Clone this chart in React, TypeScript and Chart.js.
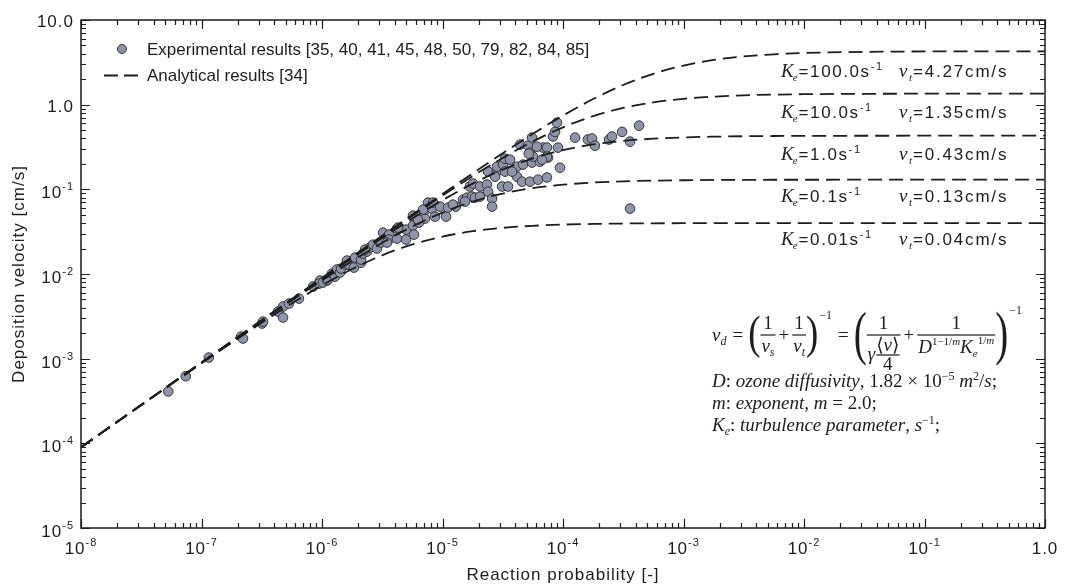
import React, { useEffect, useRef } from "react";
import { Chart, registerables } from "chart.js";

Chart.register(...registerables);

// ---------------- data ----------------
const GAMMA = [
  1e-8, 1e-7, 3.16e-7, 5.62e-7, 1e-6, 1.78e-6, 3.16e-6, 5.62e-6, 1e-5, 1.78e-5, 3.16e-5, 5.62e-5,
  1e-4, 1.78e-4, 3.16e-4, 5.62e-4, 1e-3, 1.78e-3, 3.16e-3, 5.62e-3, 1e-2, 1e-1, 1,
];
const VD_KE_100 = [
  9.0e-5, 9.0e-4, 2.844e-3, 5.055e-3, 8.981e-3, 0.01596, 0.02827, 0.05002, 0.08814, 0.1544, 0.2668, 0.4525,
  0.7433, 1.165, 1.708, 2.316, 2.896, 3.371, 3.713, 3.937, 4.077, 4.25, 4.268,
];
const VD_KE_10 = [
  9.0e-5, 8.994e-4, 2.84e-3, 5.042e-3, 8.94e-3, 0.01583, 0.02787, 0.04878, 0.08437, 0.1432, 0.235, 0.3681,
  0.54, 0.7326, 0.9156, 1.0657, 1.1739, 1.2451, 1.2889, 1.3149, 1.33, 1.348, 1.35,
];
const VD_KE_1 = [
  9.0e-5, 8.981e-4, 2.827e-3, 5.002e-3, 8.815e-3, 0.01544, 0.02669, 0.04527, 0.07442, 0.1167, 0.1712, 0.2325,
  0.291, 0.339, 0.3736, 0.3963, 0.4104, 0.4188, 0.4236, 0.4264, 0.428, 0.4298, 0.43,
];
const VD_KE_01 = [
  8.994e-5, 8.938e-4, 2.785e-3, 4.871e-3, 8.417e-3, 0.01426, 0.02335, 0.03643, 0.05319, 0.07177, 0.08924, 0.1034,
  0.1136, 0.1202, 0.1243, 0.1267, 0.1281, 0.129, 0.1294, 0.1297, 0.1298, 0.13, 0.13,
];
const VD_KE_001 = [
  8.98e-5, 8.802e-4, 2.657e-3, 4.492e-3, 7.347e-3, 0.01144, 0.01663, 0.02234, 0.02769, 0.03201, 0.03507, 0.03707,
  0.0383, 0.03903, 0.03945, 0.03968, 0.03982, 0.0399, 0.03994, 0.03997, 0.03998, 0.04, 0.04,
];

const EXP_GAMMA = [
  5.3e-8, 7.4e-8, 1.15e-7, 2.13e-7, 2.21e-7, 3.18e-7, 3.24e-7, 4.31e-7, 4.75e-7, 4.75e-7,
  5.32e-7, 6.44e-7, 8.42e-7, 9.62e-7, 9.44e-7, 1.02e-6, 1.1e-6, 1.12e-6, 1.21e-6, 1.28e-6,
  1.33e-6, 1.41e-6, 1.44e-6, 1.58e-6, 1.61e-6, 1.67e-6, 1.84e-6, 1.84e-6, 1.88e-6, 2.11e-6,
  2.11e-6, 2.19e-6, 2.36e-6, 2.5e-6, 2.65e-6, 2.86e-6, 3.09e-6, 3.21e-6, 3.6e-6, 3.6e-6,
  4.19e-6, 4.19e-6, 4.98e-6, 4.98e-6, 5.69e-6, 5.69e-6, 5.8e-6, 6.38e-6, 7.16e-6, 7.29e-6,
  7.58e-6, 8.18e-6, 8.34e-6, 8.66e-6, 9.53e-6, 6.89e-6, 1.07e-5, 1.11e-5, 1.29e-5, 1.48e-5,
  1.6e-5, 1.76e-5, 1.86e-5, 2.05e-5, 1.69e-5, 1.79e-5, 2.05e-5, 2.34e-5, 2.39e-5, 2.39e-5,
  2.58e-5, 2.58e-5, 2.83e-5, 2.83e-5, 3.12e-5, 3.18e-5, 3.3e-5, 3.3e-5, 3.5e-5, 3.63e-5,
  4.15e-5, 4.15e-5, 4.4e-5, 4.57e-5, 4.66e-5, 5.13e-5, 5.32e-5, 5.32e-5, 5.53e-5, 6.21e-5,
  6.44e-5, 6.82e-5, 7.36e-5, 7.52e-5, 8.26e-5, 8.59e-5, 8.91e-5, 9.44e-5, 2.73e-5, 3.78e-5,
  5.64e-5, 6.08e-5, 5.53e-5, 5.2e-5, 7.36e-5, 9.1e-5, 7.36e-5, 6.7e-5, 1.26e-4, 1.61e-4,
  1.74e-4, 1.84e-4, 2.41e-4, 2.55e-4, 3.09e-4, 3.6e-4, 4.28e-4, 3.6e-4, 1.22e-5, 1.54e-5,
  6.26e-6, 4.28e-6, 3.46e-6, 2.28e-6,
];
const EXP_VD = [
  4.1e-4, 6.2e-4, 1.03e-3, 1.82e-3, 1.73e-3, 2.6e-3, 2.74e-3, 3.6e-3, 3.06e-3, 4.12e-3,
  4.47e-3, 5.12e-3, 7.1e-3, 8.36e-3, 7.7e-3, 7.91e-3, 8.36e-3, 8.59e-3, 1.01e-2, 9.31e-3,
  1.13e-2, 1.04e-2, 1.16e-2, 1.29e-2, 1.44e-2, 1.29e-2, 1.48e-2, 1.19e-2, 1.56e-2, 1.36e-2,
  1.48e-2, 1.74e-2, 1.84e-2, 2.05e-2, 2.22e-2, 2.0e-2, 2.35e-2, 3.08e-2, 2.92e-2, 2.55e-2,
  3.44e-2, 2.62e-2, 3.34e-2, 2.55e-2, 4.89e-2, 3.73e-2, 2.92e-2, 4.05e-2, 4.51e-2, 5.76e-2,
  6.97e-2, 5.92e-2, 6.97e-2, 4.76e-2, 6.25e-2, 5.76e-2, 4.76e-2, 6.08e-2, 6.25e-2, 7.55e-2,
  7.98e-2, 8.2e-2, 7.98e-2, 8.2e-2, 0.108, 0.117, 0.108, 0.114, 0.162, 9.39e-2,
  7.76e-2, 6.25e-2, 0.162, 0.185, 0.108, 0.196, 0.23, 0.162, 0.108, 0.224,
  0.185, 0.141, 0.337, 0.123, 0.196, 0.328, 0.271, 0.123, 0.207, 0.13,
  0.212, 0.311, 0.138, 0.237, 0.421, 0.477, 0.613, 0.18, 0.141, 0.162,
  0.243, 0.319, 0.408, 0.264, 0.311, 0.311, 0.243, 0.224, 0.408, 0.387,
  0.398, 0.328, 0.387, 0.421, 0.477, 0.366, 0.565, 5.92e-2, 6.6e-2, 7.16e-2,
  4.39e-2, 3.53e-2, 2.35e-2, 1.94e-2,
];

const X_TICK_EXPONENTS = [-8, -7, -6, -5, -4, -3, -2, -1];
const Y_TICK_EXPONENTS = [-5, -4, -3, -2, -1];
const CURVE_KE = ["100.0", "10.0", "1.0", "0.1", "0.01"];
const CURVE_VT = ["4.27", "1.35", "0.43", "0.13", "0.04"];
const LEGEND_EXP = "Experimental results [35, 40, 41, 45, 48, 50, 79, 82, 84, 85]";
const LEGEND_ANA = "Analytical results [34]";
const X_TITLE = "Reaction probability [-]";
const Y_TITLE = "Deposition velocity [cm/s]";

// ---------------- styles ----------------
const SANS = '"Liberation Sans", Arial, Helvetica, sans-serif';
const SERIF = '"Liberation Serif", "Times New Roman", "DejaVu Serif", serif';
const INK = "#1c1c1c";
const POINT_FILL = "#8e95aa";
const POINT_EDGE = "#333333";
const DASH = [14, 7];

type Seg = [string, string, number, number];

function fontOf(kind: string, size: number) {
  if (kind === "i") return `italic ${size}px ${SERIF}`;
  if (kind === "r") return `${size}px ${SERIF}`;
  return `${size}px ${SANS}`;
}
function tw(ctx: any, t: string, kind: string, size: number) {
  ctx.font = fontOf(kind, size);
  return ctx.measureText(t).width;
}
function tx(ctx: any, t: string, kind: string, size: number, x: number, y: number) {
  ctx.font = fontOf(kind, size);
  ctx.fillText(t, x, y);
  return x + ctx.measureText(t).width;
}
function segW(ctx: any, segs: Seg[]) {
  let w = 0;
  for (const s of segs) w += tw(ctx, s[0], s[1], s[2]);
  return w;
}
function segD(ctx: any, segs: Seg[], x: number, y: number) {
  for (const s of segs) x = tx(ctx, s[0], s[1], s[2], x, y + s[3]);
  return x;
}
function frac(ctx: any, x: number, A: number, num: Seg[], den: Seg[], denDy = 17) {
  const wn = segW(ctx, num);
  const wd = segW(ctx, den);
  const w = Math.max(wn, wd) + 2;
  segD(ctx, num, x + (w - wn) / 2, A - 6);
  segD(ctx, den, x + (w - wd) / 2, A + denDy);
  ctx.fillRect(x, A - 0.6, w, 1.2);
  return x + w;
}
function paren(ctx: any, ch: string, size: number, sx: number, x: number, y: number) {
  ctx.font = fontOf("r", size);
  const w = ctx.measureText(ch).width * sx;
  ctx.save();
  ctx.translate(x, y);
  ctx.scale(sx, 1);
  ctx.fillText(ch, 0, 0);
  ctx.restore();
  return x + w;
}

const decorPlugin = {
  id: "decor",
  beforeDraw(chart: any) {
    const ctx = chart.ctx;
    ctx.save();
    ctx.fillStyle = "#ffffff";
    ctx.fillRect(0, 0, chart.width, chart.height);
    ctx.restore();
  },
  afterDraw(chart: any) {
    const ctx = chart.ctx;
    const xs = chart.scales.x;
    const ys = chart.scales.y;
    const a = chart.chartArea;
    ctx.save();
    ctx.strokeStyle = INK;
    ctx.fillStyle = INK;
    ctx.lineWidth = 1.5;
    ctx.setLineDash([]);
    ctx.strokeRect(a.left, a.top, a.right - a.left, a.bottom - a.top);

    // ticks (inward)
    ctx.lineWidth = 1.2;
    ctx.beginPath();
    for (let e = -8; e <= 0; e++) {
      for (let k = 1; k <= 9; k++) {
        if (e === 0 && k > 1) break;
        const px = Math.round(xs.getPixelForValue(k * Math.pow(10, e))) + 0.5;
        const len = k === 1 ? 9 : 5;
        ctx.moveTo(px, a.bottom);
        ctx.lineTo(px, a.bottom - len);
        ctx.moveTo(px, a.top);
        ctx.lineTo(px, a.top + len);
      }
    }
    for (let e = -5; e <= 1; e++) {
      for (let k = 1; k <= 9; k++) {
        if (e === 1 && k > 1) break;
        const py = Math.round(ys.getPixelForValue(k * Math.pow(10, e))) + 0.5;
        const len = k === 1 ? 9 : 5;
        ctx.moveTo(a.left, py);
        ctx.lineTo(a.left + len, py);
        ctx.moveTo(a.right, py);
        ctx.lineTo(a.right - len, py);
      }
    }
    ctx.stroke();

    // tick labels
    ctx.textAlign = "left";
    ctx.textBaseline = "alphabetic";
    (ctx as any).letterSpacing = "1px";
    const TF = 17;
    const EF = 11;
    for (const e of X_TICK_EXPONENTS) {
      const cx = xs.getPixelForValue(Math.pow(10, e));
      const w10 = tw(ctx, "10", "s", TF);
      const we = tw(ctx, String(e), "s", EF);
      const start = cx - (w10 + we) / 2;
      const nx = tx(ctx, "10", "s", TF, start, 554);
      tx(ctx, String(e), "s", EF, nx, 546);
    }
    {
      const cx = xs.getPixelForValue(1);
      const w = tw(ctx, "1.0", "s", TF);
      tx(ctx, "1.0", "s", TF, cx - w / 2, 554);
    }
    const YR = 74;
    for (const e of Y_TICK_EXPONENTS) {
      const cy = ys.getPixelForValue(Math.pow(10, e));
      const w10 = tw(ctx, "10", "s", TF);
      const we = tw(ctx, String(e), "s", EF);
      const start = YR - (w10 + we);
      const nx = tx(ctx, "10", "s", TF, start, cy + 9);
      tx(ctx, String(e), "s", EF, nx, cy + 1);
    }
    for (const [v, s] of [[1, "1.0"], [10, "10.0"]] as [number, string][]) {
      const cy = ys.getPixelForValue(v);
      const w = tw(ctx, s, "s", TF);
      tx(ctx, s, "s", TF, YR - w, cy + 7);
    }

    // axis titles
    {
      const w = tw(ctx, X_TITLE, "s", TF);
      tx(ctx, X_TITLE, "s", TF, (a.left + a.right) / 2 - w / 2, 580);
      ctx.save();
      ctx.translate(24, (a.top + a.bottom) / 2);
      ctx.rotate(-Math.PI / 2);
      const wy = tw(ctx, Y_TITLE, "s", TF);
      tx(ctx, Y_TITLE, "s", TF, -wy / 2, 0);
      ctx.restore();
    }
    (ctx as any).letterSpacing = "0px";

    // legend
    ctx.beginPath();
    ctx.arc(122, 49, 4.5, 0, Math.PI * 2);
    ctx.fillStyle = POINT_FILL;
    ctx.fill();
    ctx.lineWidth = 1;
    ctx.strokeStyle = POINT_EDGE;
    ctx.stroke();
    ctx.fillStyle = INK;
    tx(ctx, LEGEND_EXP, "s", 17, 147, 55);
    ctx.beginPath();
    ctx.setLineDash([14, 6]);
    ctx.lineWidth = 1.8;
    ctx.strokeStyle = INK;
    ctx.moveTo(104, 75.5);
    ctx.lineTo(141, 75.5);
    ctx.stroke();
    ctx.setLineDash([]);
    tx(ctx, LEGEND_ANA, "s", 17, 147, 81);

    // curve labels
    const rowBase = [77, 118, 160, 202, 245];
    for (let i = 0; i < CURVE_KE.length; i++) {
      const by = rowBase[i];
      let x = tx(ctx, "K", "i", 19, 781, by);
      x = tx(ctx, "e", "i", 11, x - 1, by + 4);
      (ctx as any).letterSpacing = "1.6px";
      x = tx(ctx, "=" + CURVE_KE[i] + "s", "s", 17, x + 1, by);
      x = tx(ctx, "-1", "s", 11, x, by - 7);
      let vx = tx(ctx, "v", "i", 19, 899, by);
      (ctx as any).letterSpacing = "0px";
      vx = tx(ctx, "t", "i", 11, vx, by + 4);
      (ctx as any).letterSpacing = "1.8px";
      tx(ctx, "=" + CURVE_VT[i] + "cm/s", "s", 17, vx + 1, by);
      (ctx as any).letterSpacing = "0px";
    }

    // formula
    const M = 19;
    const S = 12;
    const A = 335;
    let x = 712;
    x = segD(ctx, [["v", "i", M, 0], ["d", "i", S, 4]], x, A + 6);
    x += 6;
    x = tx(ctx, "=", "r", M, x, A + 6);
    x += 5;
    x = paren(ctx, "(", 46, 0.8, x, A + 13);
    x = frac(ctx, x, A, [["1", "r", M, 0]], [["v", "i", M, 0], ["s", "i", S, 4]]);
    x += 3;
    x = tx(ctx, "+", "r", M, x, A + 6);
    x += 3;
    x = frac(ctx, x, A, [["1", "r", M, 0]], [["v", "i", M, 0], ["t", "i", S, 4]]);
    x = paren(ctx, ")", 46, 0.8, x, A + 13);
    x = tx(ctx, "\u22121", "r", S, x + 1, A - 16);
    x += 6;
    x = tx(ctx, "=", "r", M, x, A + 6);
    x += 5;
    x = paren(ctx, "(", 60, 0.65, x, A + 18);
    {
      const gW = tw(ctx, "\u03b3", "i", M);
      const vSegs: Seg[] = [["\u27e8", "r", M, 0], ["v", "i", M, 0], ["\u27e9", "r", M, 0]];
      const vW = segW(ctx, vSegs);
      const fW = tw(ctx, "4", "r", M);
      const inner = Math.max(vW, fW);
      const denW = gW + 1 + inner;
      const numW = tw(ctx, "1", "r", M);
      const W = Math.max(denW, numW) + 2;
      tx(ctx, "1", "r", M, x + (W - numW) / 2, A - 6);
      ctx.fillRect(x, A - 0.6, W, 1.2);
      const dx = x + (W - denW) / 2;
      tx(ctx, "\u03b3", "i", M, dx, A + 25);
      const ix = dx + gW + 1;
      segD(ctx, vSegs, ix + (inner - vW) / 2, A + 16);
      ctx.fillRect(ix, A + 19.4, inner, 1.2);
      tx(ctx, "4", "r", M, ix + (inner - fW) / 2, A + 35);
      x += W;
    }
    x += 3;
    x = tx(ctx, "+", "r", M, x, A + 6);
    x += 3;
    x = frac(
      ctx,
      x,
      A,
      [["1", "r", M, 0]],
      [
        ["D", "i", M, 0],
        ["1\u22121/", "r", 11, -8],
        ["m", "i", 11, -8],
        ["K", "i", M, 0],
        ["e", "i", 11, 4],
        ["1/", "r", 11, -9],
        ["m", "i", 11, -9],
      ],
      18
    );
    x = paren(ctx, ")", 60, 0.65, x, A + 18);
    tx(ctx, "\u22121", "r", S, x + 1, A - 21);

    // definitions
    const F = 19;
    const sup = (t: string, k = "r"): Seg => [t, k, 12, -7];
    segD(
      ctx,
      [
        ["D", "i", F, 0],
        [": ", "r", F, 0],
        ["ozone diffusivity", "i", F, 0],
        [", 1.82 \u00d7 10", "r", F, 0],
        sup("\u22125"),
        [" ", "r", F, 0],
        ["m", "i", F, 0],
        sup("2"),
        ["/", "r", F, 0],
        ["s", "i", F, 0],
        [";", "r", F, 0],
      ],
      712,
      387
    );
    segD(
      ctx,
      [
        ["m", "i", F, 0],
        [": ", "r", F, 0],
        ["exponent", "i", F, 0],
        [", ", "r", F, 0],
        ["m", "i", F, 0],
        [" = 2.0;", "r", F, 0],
      ],
      712,
      409
    );
    segD(
      ctx,
      [
        ["K", "i", F, 0],
        ["e", "i", 12, 4],
        [": ", "r", F, 0],
        ["turbulence parameter", "i", F, 0],
        [", ", "r", F, 0],
        ["s", "i", F, 0],
        sup("\u22121"),
        [";", "r", F, 0],
      ],
      712,
      431
    );

    ctx.restore();
  },
};

function curve(vals: number[]) {
  return {
    type: "line" as const,
    data: GAMMA.map((g, i) => ({ x: g, y: vals[i] })),
    borderColor: INK,
    borderWidth: 1.8,
    borderDash: DASH,
    pointRadius: 0,
    fill: false,
    cubicInterpolationMode: "monotone" as const,
  };
}

export default function App() {
  const ref = useRef<HTMLCanvasElement | null>(null);
  useEffect(() => {
    if (!ref.current) return;
    const chart = new Chart(ref.current, {
      type: "scatter",
      data: {
        datasets: [
          curve(VD_KE_100) as any,
          curve(VD_KE_10) as any,
          curve(VD_KE_1) as any,
          curve(VD_KE_01) as any,
          curve(VD_KE_001) as any,
          {
            type: "scatter",
            data: EXP_GAMMA.map((g, i) => ({ x: g, y: EXP_VD[i] })),
            backgroundColor: POINT_FILL,
            borderColor: POINT_EDGE,
            borderWidth: 1,
            pointRadius: 4.8,
          },
        ],
      },
      options: {
        responsive: false,
        animation: false,
        devicePixelRatio: 1,
        layout: { padding: { left: 0, top: 20, right: 27, bottom: 0 } },
        plugins: { legend: { display: false }, tooltip: { enabled: false }, title: { display: false } },
        scales: {
          x: {
            type: "logarithmic",
            min: 1e-8,
            max: 1,
            grid: { display: false },
            border: { display: false },
            ticks: { display: false },
            afterFit: (s: any) => {
              s.height = 57;
            },
          },
          y: {
            type: "logarithmic",
            min: 1e-5,
            max: 10,
            grid: { display: false },
            border: { display: false },
            ticks: { display: false },
            afterFit: (s: any) => {
              s.width = 81;
            },
          },
        },
      } as any,
      plugins: [decorPlugin],
    });
    return () => chart.destroy();
  }, []);
  return (
    <div style={{ position: "fixed", left: 0, top: 0, width: 1072, height: 585, background: "#fff" }}>
      <canvas ref={ref} width={1072} height={585} style={{ display: "block", width: 1072, height: 585 }} />
    </div>
  );
}
